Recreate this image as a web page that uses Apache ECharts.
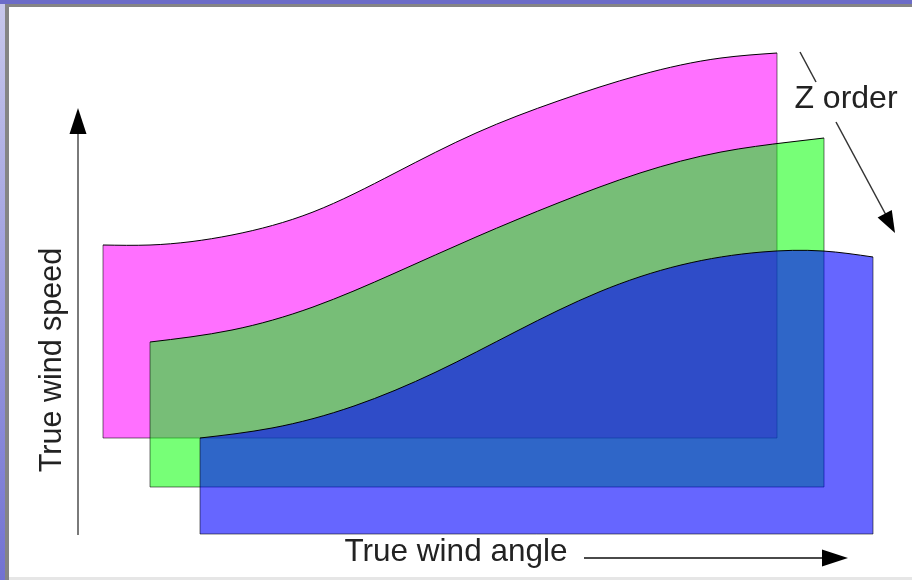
<!DOCTYPE html>
<html>
<head>
<meta charset="utf-8">
<script src="https://cdn.jsdelivr.net/npm/echarts@6/dist/echarts.min.js"></script>
<style>
html,body{margin:0;padding:0;background:#fff;}
#chart{width:912px;height:580px;}
</style>
</head>
<body>
<div id="chart"></div>
<script>
// Diagram units: x = true wind angle position, y = true wind speed position
const angleMagenta = [103, 150, 232, 313, 395, 476, 558, 640, 721, 777];
const speedMagenta = [335, 335, 345, 368, 407, 447, 479, 505, 522, 527];
const baseMagenta = 142;

const angleGreen = [150, 232, 313, 395, 476, 558, 640, 721, 790, 824];
const speedGreen = [238, 250, 273, 307, 343, 377, 407, 428, 438, 442];
const baseGreen = 93;

const angleBlue = [200, 272, 354, 436, 517, 599, 681, 762, 823, 873];
const speedBlue = [142, 152, 174, 208, 249, 288, 315, 328, 329, 323];
const baseBlue = 46;

const labelSpeed = 'True wind speed';
const labelAngle = 'True wind angle';
const labelZ = 'Z order';

const FONT = '"Liberation Sans", Arial, sans-serif';

// natural cubic spline through pixel points -> SVG path (cubic bezier segments)
function splinePath(pts) {
  const n = pts.length;
  const h = [], M = new Array(n).fill(0);
  for (let i = 0; i < n - 1; i++) h.push(pts[i + 1][0] - pts[i][0]);
  if (n > 2) {
    const a = [], b = [], c = [], d = [];
    for (let i = 1; i < n - 1; i++) {
      a.push(h[i - 1]);
      b.push(2 * (h[i - 1] + h[i]));
      c.push(h[i]);
      d.push(6 * ((pts[i + 1][1] - pts[i][1]) / h[i] - (pts[i][1] - pts[i - 1][1]) / h[i - 1]));
    }
    const m = b.length;
    for (let i = 1; i < m; i++) {
      const w = a[i] / b[i - 1];
      b[i] -= w * c[i - 1];
      d[i] -= w * d[i - 1];
    }
    const sol = new Array(m);
    sol[m - 1] = d[m - 1] / b[m - 1];
    for (let i = m - 2; i >= 0; i--) sol[i] = (d[i] - c[i] * sol[i + 1]) / b[i];
    for (let i = 0; i < m; i++) M[i + 1] = sol[i];
  }
  const slope = [];
  for (let i = 0; i < n - 1; i++) {
    slope.push((pts[i + 1][1] - pts[i][1]) / h[i] - h[i] * (2 * M[i] + M[i + 1]) / 6);
  }
  slope.push((pts[n - 1][1] - pts[n - 2][1]) / h[n - 2] + h[n - 2] * (M[n - 2] + 2 * M[n - 1]) / 6);
  let p = 'M' + pts[0][0] + ',' + pts[0][1];
  for (let i = 0; i < n - 1; i++) {
    const hh = h[i] / 3;
    p += ' C' + (pts[i][0] + hh) + ',' + (pts[i][1] + slope[i] * hh) + ' ' +
      (pts[i + 1][0] - hh) + ',' + (pts[i + 1][1] - slope[i + 1] * hh) + ' ' +
      pts[i + 1][0] + ',' + pts[i + 1][1];
  }
  return p;
}

function shapeSeries(name, xs, ys, base, color) {
  return {
    name: name,
    type: 'custom',
    coordinateSystem: 'cartesian2d',
    silent: true,
    encode: { x: 0, y: 1 },
    data: xs.map((x, i) => [x, ys[i], base]),
    renderItem: function (params, api) {
      if (params.dataIndexInside !== 0) return null;
      const n = params.dataInsideLength;
      const pts = [];
      for (let i = 0; i < n; i++) pts.push(api.coord([api.value(0, i), api.value(1, i)]));
      const b = api.value(2, 0);
      const b0 = api.coord([api.value(0, 0), b]);
      const bN = api.coord([api.value(0, n - 1), b]);
      const curve = splinePath(pts);
      return {
        type: 'group',
        children: [
          { type: 'path',
            shape: { pathData: curve + ' L' + bN[0] + ',' + bN[1] + ' L' + b0[0] + ',' + b0[1] + ' Z' },
            style: { fill: color, stroke: null } },
          { type: 'polyline',
            shape: { points: [pts[0], b0, bN, pts[n - 1]] },
            style: { stroke: 'rgba(0,0,0,0.55)', fill: null, lineWidth: 1 } },
          { type: 'path',
            shape: { pathData: curve },
            style: { stroke: '#000', fill: null, lineWidth: 1 } }
        ]
      };
    }
  };
}

const chart = echarts.init(document.getElementById('chart'), null, { renderer: 'canvas' });

const option = {
  animation: false,
  backgroundColor: '#ffffff',
  grid: { left: 0, right: 0, top: 0, bottom: 0 },
  xAxis: { type: 'value', min: 0, max: 912, show: false },
  yAxis: { type: 'value', min: 0, max: 580, show: false },
  series: [
    shapeSeries('magenta', angleMagenta, speedMagenta, baseMagenta, 'rgba(255,0,255,0.56)'),
    shapeSeries('green', angleGreen, speedGreen, baseGreen, 'rgba(5,255,5,0.545)'),
    shapeSeries('blue', angleBlue, speedBlue, baseBlue, 'rgba(0,0,255,0.6)')
  ],
  graphic: [
    // frame
    { type: 'rect', z: 0, shape: { x: 0, y: 0, width: 912, height: 580 },
      style: { fill: new echarts.graphic.LinearGradient(0, 0, 0, 1, [
        { offset: 0, color: '#c8c8ec' }, { offset: 1, color: '#7272d2' }]) } },
    { type: 'rect', z: 0, shape: { x: 0, y: 0, width: 912, height: 4 },
      style: { fill: '#6c6cc8' } },
    { type: 'rect', z: 0, shape: { x: 5, y: 4, width: 907, height: 576 },
      style: { fill: '#858585' } },
    { type: 'rect', z: 0, shape: { x: 9, y: 7, width: 903, height: 573 },
      style: { fill: '#e6e6e6' } },
    { type: 'rect', z: 0, shape: { x: 9, y: 7, width: 903, height: 570 },
      style: { fill: '#ffffff' } },

    // y arrow
    { type: 'line', z: 100, shape: { x1: 78, y1: 535, x2: 78, y2: 130 },
      style: { stroke: '#7a7a7a', lineWidth: 2 } },
    { type: 'polygon', z: 100, shape: { points: [[78, 108], [69.5, 134], [86.5, 134]] },
      style: { fill: '#000' } },

    // x arrow
    { type: 'line', z: 100, shape: { x1: 584, y1: 558, x2: 826, y2: 558 },
      style: { stroke: '#4a4a4a', lineWidth: 2 } },
    { type: 'polygon', z: 100, shape: { points: [[848, 558], [822, 549.5], [822, 566.5]] },
      style: { fill: '#000' } },

    // Z order marks
    { type: 'line', z: 100, shape: { x1: 800, y1: 52, x2: 816, y2: 82 },
      style: { stroke: '#333', lineWidth: 1.5 } },
    { type: 'line', z: 100, shape: { x1: 836, y1: 122, x2: 886, y2: 215 },
      style: { stroke: '#333', lineWidth: 1.5 } },
    { type: 'polygon', z: 100, shape: { points: [[895, 233], [877.6, 217.4], [891.8, 209.9]] },
      style: { fill: '#000' } },

    // labels
    { type: 'text', z: 100, x: 53, y: 360, rotation: Math.PI / 2,
      style: { text: labelSpeed, font: '30.5px ' + FONT, fill: '#222', align: 'center', verticalAlign: 'middle' } },
    { type: 'text', z: 100, x: 456, y: 552,
      style: { text: labelAngle, font: '31.5px ' + FONT, fill: '#222', align: 'center', verticalAlign: 'middle' } },
    { type: 'text', z: 100, x: 846, y: 99,
      style: { text: labelZ, font: '32px ' + FONT, fill: '#222', align: 'center', verticalAlign: 'middle' } }
  ]
};

chart.setOption(option);
</script>
</body>
</html>
